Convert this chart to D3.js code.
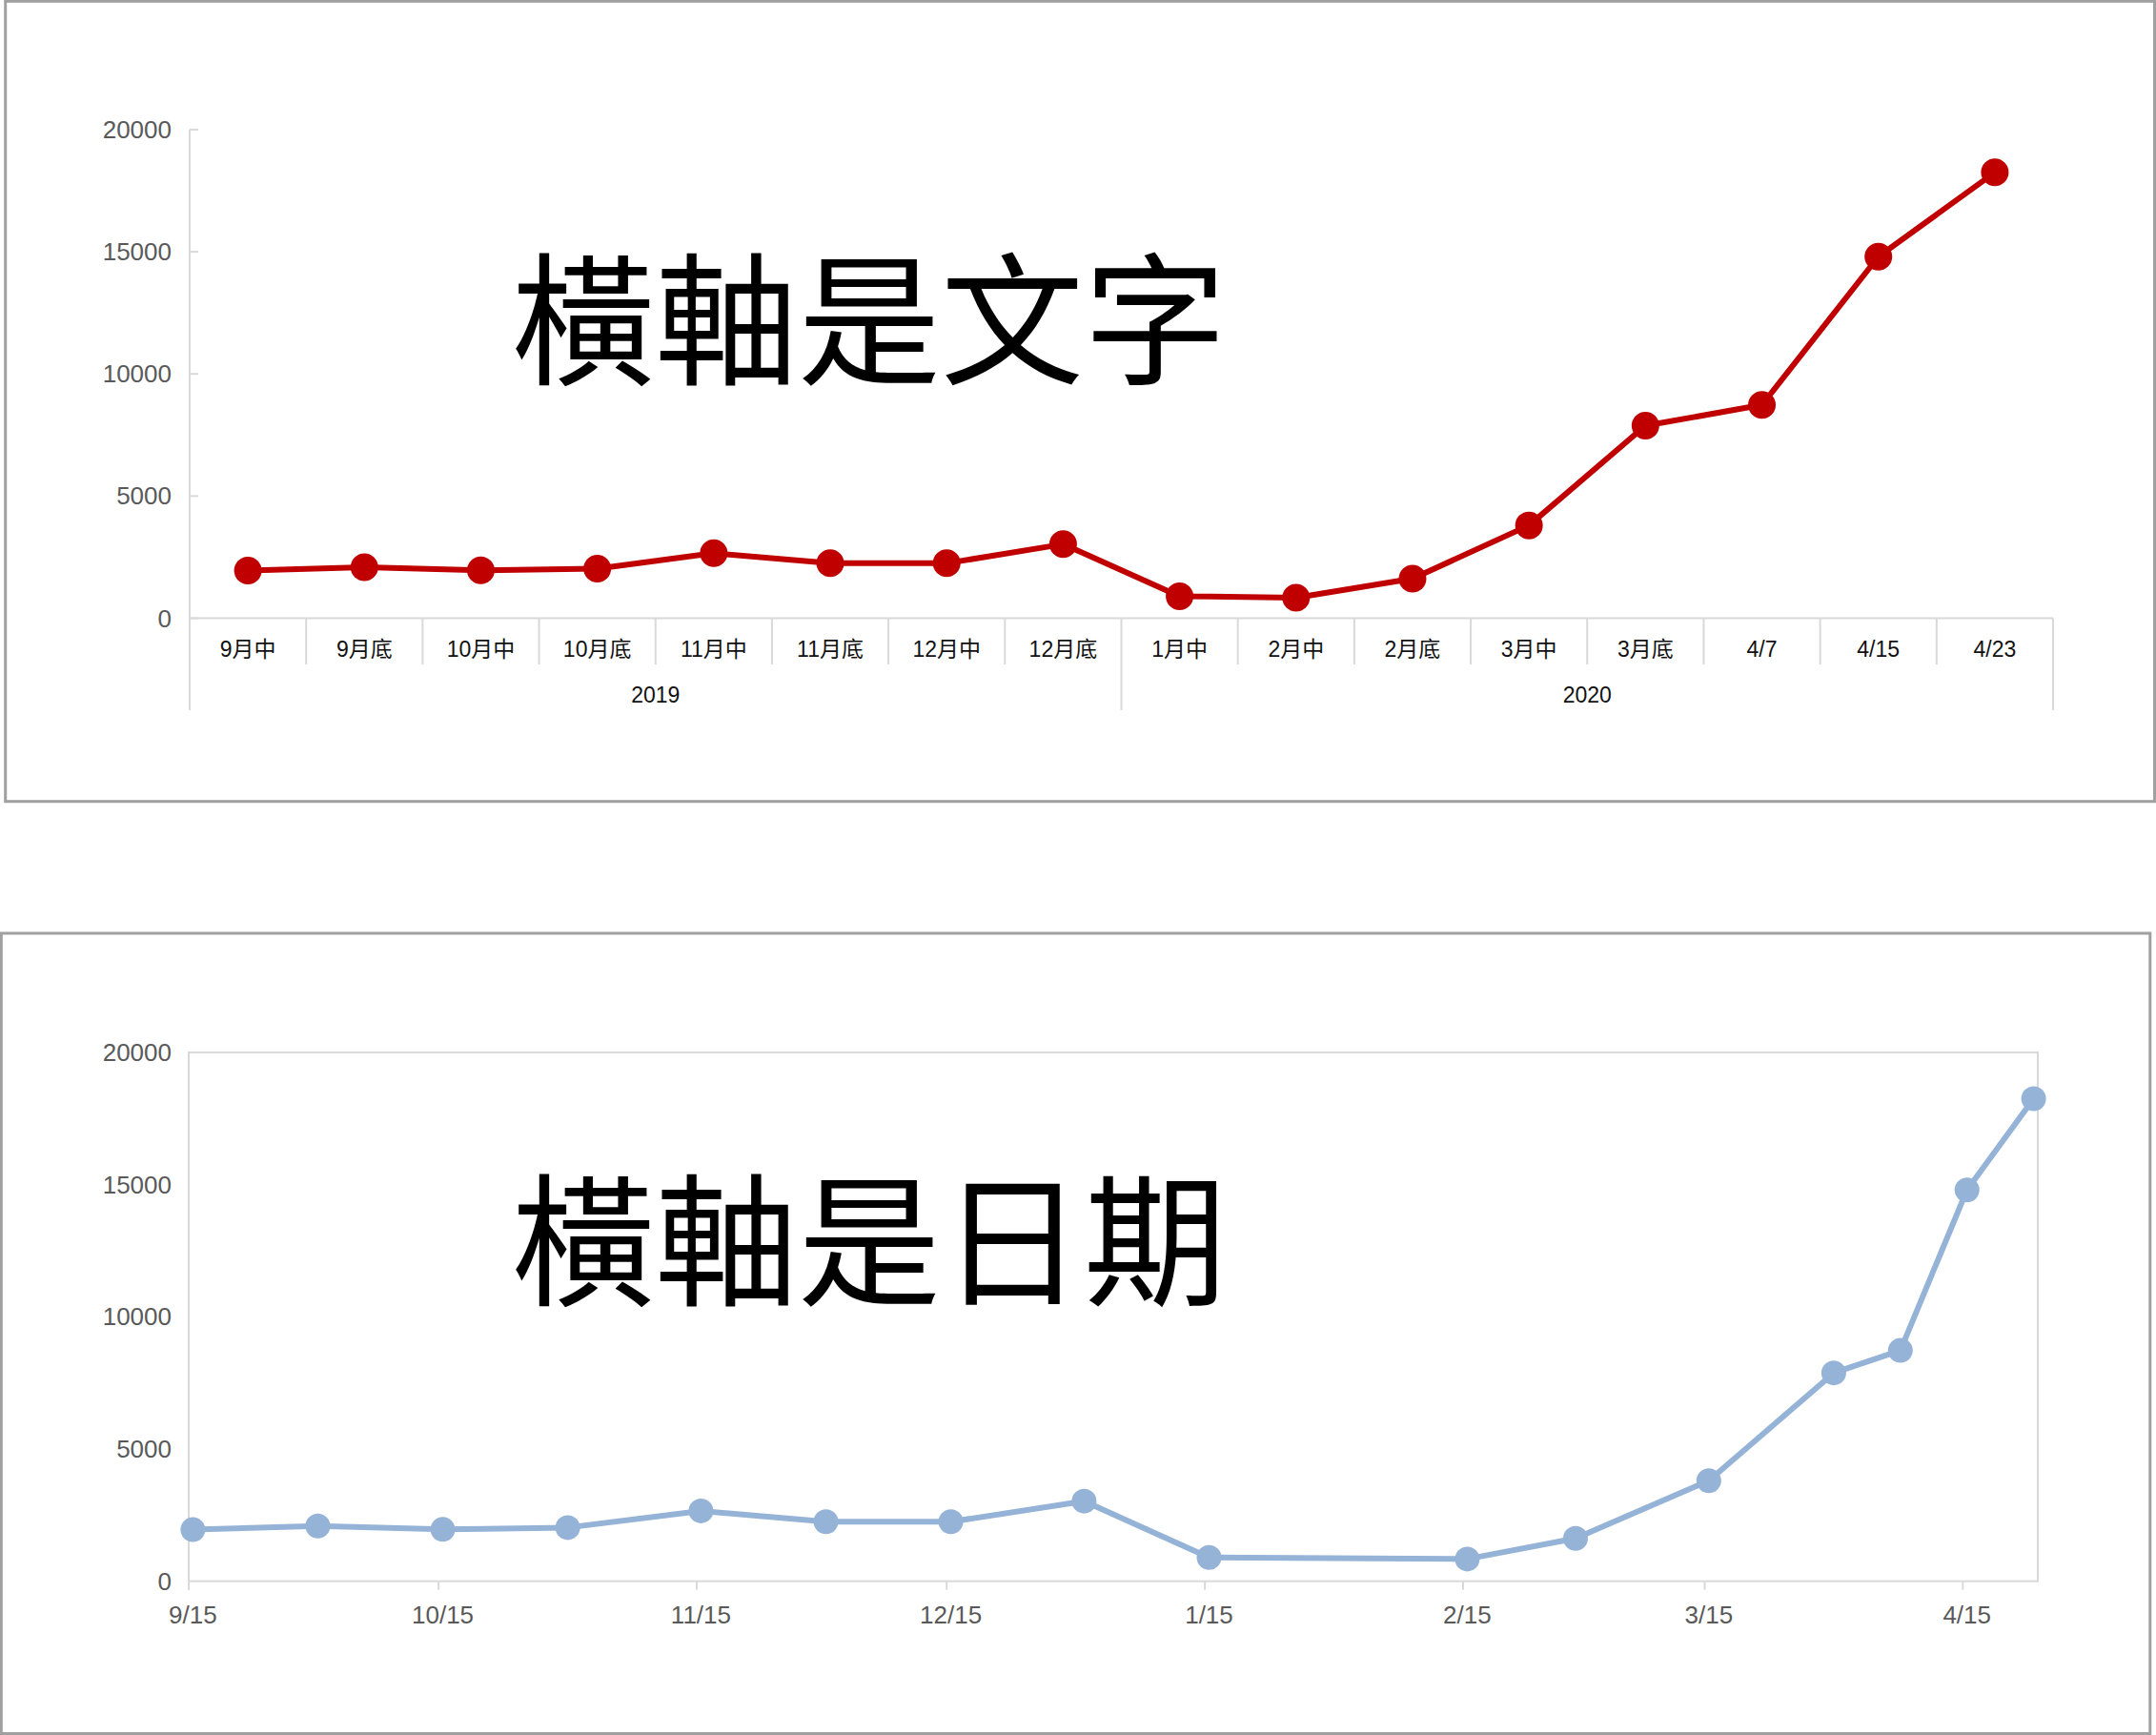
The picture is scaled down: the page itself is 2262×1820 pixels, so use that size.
<!DOCTYPE html>
<meta charset="utf-8">
<title>橫軸是文字 / 橫軸是日期</title>
<style>

body {
  margin: 0;
  background-color: white;
}

text {
  font-family: "Liberation Sans", Arial, "Noto Sans CJK TC", sans-serif;
}

.title {
  font-family: "Noto Sans CJK TC", sans-serif;
  fill: black;
}

.frame {
  fill: white;
  stroke: #a0a0a0;
  stroke-width: 3px;
}

.rule {
  stroke: #d9d9d9;
  stroke-width: 2px;
  fill: none;
}

</style>
<body>
<script src="https://cdnjs.cloudflare.com/ajax/libs/d3/7.8.5/d3.min.js"></script>
<script>

// values
var categories = ["9月中", "9月底", "10月中", "10月底", "11月中", "11月底", "12月中", "12月底",
                  "1月中", "2月中", "2月底", "3月中", "3月底", "4/7", "4/15", "4/23"];
var yearLabels = ["2019", "2020"];
var yearSpans = [8, 8];
var dates = ["2019-09-15", "2019-09-30", "2019-10-15", "2019-10-30", "2019-11-15", "2019-11-30",
             "2019-12-15", "2019-12-31", "2020-01-15", "2020-02-15", "2020-02-28", "2020-03-15",
             "2020-03-30", "2020-04-07", "2020-04-15", "2020-04-23"];
var values = [1950, 2090, 1960, 2030, 2660, 2250, 2250, 3030, 900, 840, 1620, 3800, 7880, 8730, 14800, 18250];
var yTicks = [0, 5000, 10000, 15000, 20000];
var dateTicks = ["2019-09-15", "2019-10-15", "2019-11-15", "2019-12-15", "2020-01-15",
                 "2020-02-15", "2020-03-15", "2020-04-15"];
var dateDomain = ["2019-09-15", "2020-04-24"];

var width = 2262,
    height = 1820,
    halfDay = 12 * 3600 * 1000,
    parse = d3.utcParse("%Y-%m-%d"),
    fmt = d3.utcFormat("%-m/%-d");

var svg = d3.select("body").append("svg")
    .attr("width", width)
    .attr("height", height);

// ---------- upper chart: category axis ----------

var g1 = svg.append("g");

g1.append("rect")
    .attr("class", "frame")
    .attr("x", 5.7)
    .attr("y", 1.3)
    .attr("width", 2254.8)
    .attr("height", 839.4);

var y1 = d3.scaleLinear().domain([0, 20000]).range([648.5, 136]);
var x1 = d3.scaleBand().domain(categories).range([199, 2154]);
var left1 = x1.range()[0];

// y axis line runs down through the category rows
g1.append("line")
    .attr("class", "rule")
    .attr("x1", left1).attr("x2", left1)
    .attr("y1", y1(20000)).attr("y2", 745);

g1.selectAll(".ytick")
    .data(yTicks)
  .enter().append("line")
    .attr("class", "rule")
    .attr("x1", left1).attr("x2", left1 + 9)
    .attr("y1", y1).attr("y2", y1);

g1.selectAll(".ylabel")
    .data(yTicks)
  .enter().append("text")
    .attr("x", 180)
    .attr("y", y1)
    .attr("dy", "0.35em")
    .attr("text-anchor", "end")
    .style("font-size", "26px")
    .style("fill", "#595959")
    .text(function(d) { return d; });

g1.append("line")
    .attr("class", "rule")
    .attr("x1", left1).attr("x2", x1.range()[1])
    .attr("y1", y1(0)).attr("y2", y1(0));

var yearStarts = [0];
yearSpans.forEach(function(n, i) { yearStarts.push(yearStarts[i] + n); });

g1.selectAll(".divider")
    .data(d3.range(1, categories.length + 1))
  .enter().append("line")
    .attr("class", "rule")
    .attr("x1", function(i) { return left1 + i * x1.step(); })
    .attr("x2", function(i) { return left1 + i * x1.step(); })
    .attr("y1", y1(0))
    .attr("y2", function(i) { return yearStarts.indexOf(i) >= 0 ? 745 : 697; });

g1.selectAll(".cat")
    .data(categories)
  .enter().append("text")
    .attr("x", function(d) { return x1(d) + x1.bandwidth() / 2; })
    .attr("y", 681)
    .attr("dy", "0.35em")
    .attr("text-anchor", "middle")
    .style("font-size", "23px")
    .style("fill", "#111")
    .text(function(d) { return d; });

g1.selectAll(".year")
    .data(yearLabels)
  .enter().append("text")
    .attr("x", function(d, i) {
      return left1 + (yearStarts[i] + yearSpans[i] / 2) * x1.step();
    })
    .attr("y", 729)
    .attr("dy", "0.35em")
    .attr("text-anchor", "middle")
    .style("font-size", "23px")
    .style("fill", "#111")
    .text(function(d) { return d; });

g1.append("text")
    .attr("class", "title")
    .attr("x", 537)
    .attr("y", 392)
    .style("font-size", "150px")
    .text("橫軸是文字");

var line1 = d3.line()
    .x(function(d, i) { return x1(categories[i]) + x1.bandwidth() / 2; })
    .y(function(d) { return y1(d); });

g1.append("path")
    .datum(values)
    .attr("d", line1)
    .style("fill", "none")
    .style("stroke", "#c00000")
    .style("stroke-width", 6)
    .style("stroke-linejoin", "round");

g1.selectAll(".dot")
    .data(values)
  .enter().append("circle")
    .attr("cx", function(d, i) { return x1(categories[i]) + x1.bandwidth() / 2; })
    .attr("cy", y1)
    .attr("r", 14.5)
    .style("fill", "#c00000");

// ---------- lower chart: date axis ----------

var g2 = svg.append("g");

g2.append("rect")
    .attr("class", "frame")
    .attr("x", 1.3)
    .attr("y", 979)
    .attr("width", 2254.5)
    .attr("height", 839.5);

var y2 = d3.scaleLinear().domain([0, 20000]).range([1658.7, 1104]);
var x2 = d3.scaleUtc().domain(dateDomain.map(parse)).range([198, 2138]);

g2.append("rect")
    .attr("class", "rule")
    .attr("x", x2.range()[0])
    .attr("y", y2(20000))
    .attr("width", x2.range()[1] - x2.range()[0])
    .attr("height", y2(0) - y2(20000));

g2.selectAll(".ylabel")
    .data(yTicks)
  .enter().append("text")
    .attr("x", 180)
    .attr("y", y2)
    .attr("dy", "0.35em")
    .attr("text-anchor", "end")
    .style("font-size", "26px")
    .style("fill", "#595959")
    .text(function(d) { return d; });

g2.selectAll(".xtick")
    .data(dateTicks.map(parse))
  .enter().append("line")
    .attr("class", "rule")
    .attr("x1", x2).attr("x2", x2)
    .attr("y1", y2(0)).attr("y2", y2(0) + 9);

g2.selectAll(".xlabel")
    .data(dateTicks.map(parse))
  .enter().append("text")
    .attr("x", function(d) { return x2(+d + halfDay); })
    .attr("y", 1694)
    .attr("dy", "0.35em")
    .attr("text-anchor", "middle")
    .style("font-size", "26px")
    .style("fill", "#595959")
    .text(fmt);

g2.append("text")
    .attr("class", "title")
    .attr("x", 537)
    .attr("y", 392 + 966)
    .style("font-size", "150px")
    .text("橫軸是日期");

var line2 = d3.line()
    .x(function(d, i) { return x2(+parse(dates[i]) + halfDay); })
    .y(function(d) { return y2(d); });

g2.append("path")
    .datum(values)
    .attr("d", line2)
    .style("fill", "none")
    .style("stroke", "#95b3d7")
    .style("stroke-width", 6)
    .style("stroke-linejoin", "round");

g2.selectAll(".dot")
    .data(values)
  .enter().append("circle")
    .attr("cx", function(d, i) { return x2(+parse(dates[i]) + halfDay); })
    .attr("cy", y2)
    .attr("r", 13)
    .style("fill", "#95b3d7");

</script>
